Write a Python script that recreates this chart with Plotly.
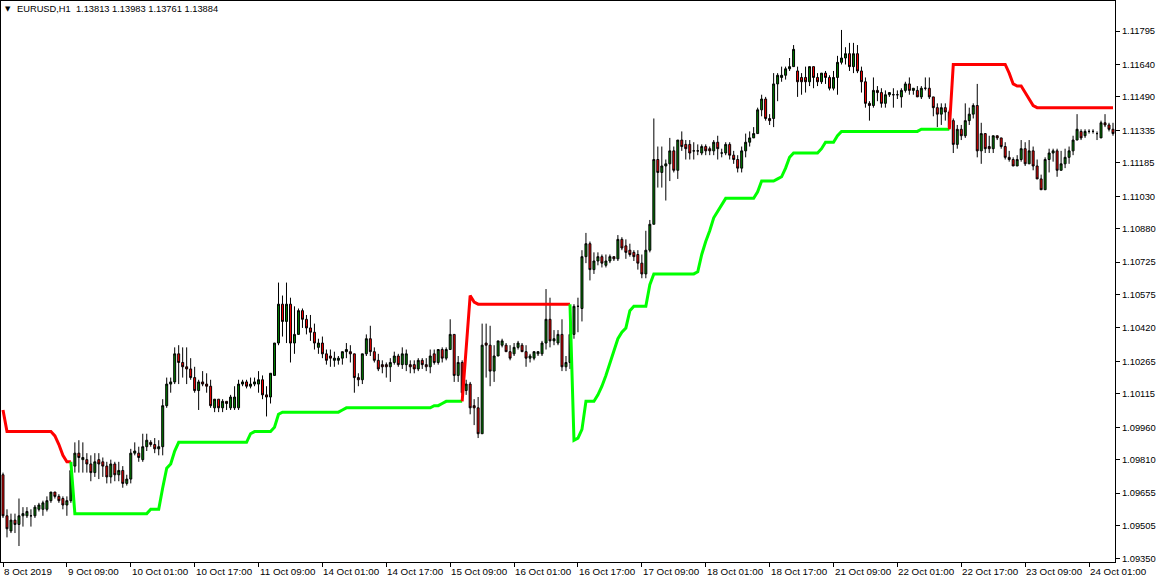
import plotly.graph_objects as go

# ---- candle data (H1 bars, index 0 = 8 Oct 2019 17:00) ----
opens = [
1.0974,1.0955,1.0948,1.0953,1.0951,1.0955,1.0955,1.0955,1.0955,1.0958,
1.0958,1.0958,1.0962,1.0966,1.0964,1.0963,1.0960,1.0962,1.0978,1.0984,
1.0981,1.0981,1.0979,1.0975,1.0981,1.0980,1.0978,1.0973,1.0979,1.0974,
1.0976,1.0970,1.0972,1.0984,1.0984,1.0981,1.0987,1.0989,1.0988,1.0986,
1.0987,1.1006,1.1016,1.1017,1.1030,1.1026,1.1024,1.1023,1.1019,1.1013,
1.1017,1.1016,1.1015,1.1005,1.1009,1.1005,1.1008,1.1005,1.1005,1.1005,
1.1016,1.1017,1.1015,1.1016,1.1016,1.1018,1.1011,1.1010,1.1020,1.1035,
1.1053,1.1045,1.1053,1.1035,1.1039,1.1050,1.1046,1.1042,1.1040,1.1033,
1.1035,1.1030,1.1029,1.1027,1.1027,1.1028,1.1031,1.1031,1.1030,1.1019,
1.1018,1.1030,1.1037,1.1031,1.1027,1.1025,1.1025,1.1024,1.1026,1.1029,
1.1025,1.1025,1.1025,1.1025,1.1023,1.1027,1.1025,1.1024,1.1030,1.1026,
1.1032,1.1028,1.1032,1.1039,1.1020,1.1026,1.1013,1.1016,1.1006,1.1005,
1.0993,1.1035,1.1034,1.1022,1.1029,1.1034,1.1034,1.1031,1.1030,1.1033,
1.1034,1.1031,1.1028,1.1028,1.1030,1.1030,1.1035,1.1046,1.1036,1.1035,
1.1039,1.1024,1.1026,1.1039,1.1052,1.1051,1.1075,1.1081,1.1069,1.1073,
1.1075,1.1071,1.1073,1.1075,1.1074,1.1083,1.1080,1.1078,1.1077,1.1076,
1.1072,1.1067,1.1078,1.1090,1.1120,1.1114,1.1117,1.1118,1.1124,1.1115,
1.1129,1.1127,1.1127,1.1124,1.1124,1.1123,1.1126,1.1125,1.1124,1.1128,
1.1123,1.1123,1.1127,1.1122,1.1120,1.1116,1.1124,1.1128,1.1130,1.1132,
1.1143,1.1148,1.1139,1.1139,1.1155,1.1158,1.1159,1.1162,1.1163,1.1161,
1.1158,1.1158,1.1156,1.1163,1.1158,1.1156,1.1160,1.1158,1.1153,1.1158,
1.1165,1.1167,1.1169,1.1163,1.1169,1.1161,1.1156,1.1146,1.1145,1.1152,
1.1151,1.1146,1.1150,1.1150,1.1150,1.1149,1.1152,1.1155,1.1152,1.1152,
1.1149,1.1153,1.1153,1.1149,1.1144,1.1141,1.1144,1.1142,1.1138,1.1127,
1.1134,1.1131,1.1138,1.1141,1.1145,1.1124,1.1132,1.1126,1.1125,1.1131,
1.1130,1.1126,1.1121,1.1120,1.1117,1.1120,1.1125,1.1118,1.1124,1.1117,
1.1111,1.1106,1.1120,1.1123,1.1124,1.1115,1.1118,1.1121,1.1124,1.1129,
1.1133,1.1131,1.1133,1.1133,1.1132,1.1130,1.1137,1.1136,1.1134]
highs = [
1.0975,1.0958,1.0956,1.0956,1.0963,1.0959,1.0959,1.0958,1.0960,1.0961,
1.0962,1.0964,1.0966,1.0966,1.0965,1.0964,1.0964,1.0980,1.0989,1.0990,
1.0989,1.0984,1.0983,1.0984,1.0984,1.0982,1.0980,1.0981,1.0980,1.0980,
1.0978,1.0974,1.0986,1.0989,1.0987,1.0993,1.0993,1.0990,1.0991,1.0990,
1.1009,1.1019,1.1019,1.1033,1.1034,1.1033,1.1033,1.1028,1.1024,1.1018,
1.1022,1.1021,1.1018,1.1009,1.1009,1.1009,1.1008,1.1011,1.1015,1.1018,
1.1018,1.1018,1.1019,1.1019,1.1022,1.1020,1.1015,1.1021,1.1035,1.1063,
1.1057,1.1063,1.1056,1.1052,1.1051,1.1051,1.1048,1.1048,1.1044,1.1037,
1.1038,1.1032,1.1032,1.1031,1.1029,1.1031,1.1035,1.1034,1.1030,1.1021,
1.1030,1.1039,1.1043,1.1033,1.1030,1.1027,1.1026,1.1028,1.1031,1.1030,
1.1033,1.1032,1.1027,1.1027,1.1028,1.1028,1.1028,1.1032,1.1032,1.1032,
1.1033,1.1033,1.1046,1.1039,1.1029,1.1027,1.1018,1.1017,1.1009,1.1010,
1.1044,1.1044,1.1043,1.1034,1.1036,1.1037,1.1035,1.1034,1.1035,1.1036,
1.1035,1.1034,1.1030,1.1031,1.1031,1.1036,1.1060,1.1056,1.1041,1.1041,
1.1046,1.1029,1.1048,1.1053,1.1056,1.1078,1.1086,1.1082,1.1077,1.1077,
1.1076,1.1076,1.1076,1.1075,1.1085,1.1084,1.1083,1.1081,1.1078,1.1078,
1.1076,1.1087,1.1092,1.1139,1.1126,1.1126,1.1120,1.1130,1.1126,1.1129,
1.1133,1.1129,1.1129,1.1128,1.1127,1.1127,1.1127,1.1126,1.1129,1.1131,
1.1125,1.1128,1.1128,1.1124,1.1122,1.1126,1.1132,1.1133,1.1135,1.1144,
1.1150,1.1149,1.1141,1.1160,1.1160,1.1163,1.1163,1.1167,1.1173,1.1163,
1.1160,1.1163,1.1163,1.1163,1.1160,1.1160,1.1161,1.1159,1.1161,1.1168,
1.1180,1.1172,1.1174,1.1174,1.1173,1.1163,1.1158,1.1147,1.1158,1.1154,
1.1153,1.1152,1.1151,1.1153,1.1152,1.1153,1.1156,1.1158,1.1153,1.1154,
1.1154,1.1158,1.1158,1.1149,1.1146,1.1146,1.1146,1.1143,1.1139,1.1136,
1.1136,1.1146,1.1144,1.1146,1.1155,1.1137,1.1132,1.1131,1.1131,1.1131,
1.1130,1.1128,1.1124,1.1121,1.1122,1.1129,1.1128,1.1129,1.1126,1.1120,
1.1113,1.1121,1.1125,1.1125,1.1125,1.1124,1.1125,1.1126,1.1131,1.1141,
1.1134,1.1134,1.1134,1.1134,1.1133,1.1138,1.1141,1.1137,1.1137]
lows = [
1.0954,1.0945,1.0947,1.0947,1.0941,1.0950,1.0954,1.0950,1.0954,1.0957,
1.0955,1.0957,1.0961,1.0963,1.0961,1.0958,1.0955,1.0961,1.0975,1.0975,
1.0975,1.0975,1.0971,1.0973,1.0972,1.0973,1.0970,1.0970,1.0971,1.0971,
1.0968,1.0969,1.0970,1.0983,1.0980,1.0980,1.0985,1.0987,1.0984,1.0983,
1.0983,1.1005,1.1012,1.1016,1.1016,1.1019,1.1016,1.1018,1.1012,1.1004,
1.1015,1.1012,1.1005,1.1003,1.1003,1.1003,1.1004,1.1004,1.1004,1.1004,
1.1015,1.1014,1.1014,1.1015,1.1012,1.1009,1.1001,1.1007,1.1020,1.1034,
1.1038,1.1035,1.1026,1.1030,1.1039,1.1042,1.1039,1.1036,1.1032,1.1030,
1.1028,1.1025,1.1024,1.1024,1.1025,1.1025,1.1028,1.1026,1.1012,1.1015,
1.1016,1.1029,1.1029,1.1026,1.1022,1.1021,1.1019,1.1017,1.1025,1.1024,
1.1023,1.1022,1.1021,1.1021,1.1022,1.1023,1.1022,1.1021,1.1025,1.1025,
1.1026,1.1027,1.1032,1.1017,1.1017,1.1011,1.1011,1.1002,1.0997,1.0991,
1.0993,1.1019,1.1015,1.1017,1.1029,1.1033,1.1031,1.1027,1.1029,1.1032,
1.1031,1.1024,1.1026,1.1027,1.1029,1.1029,1.1032,1.1033,1.1034,1.1034,
1.1022,1.1022,1.1023,1.1037,1.1040,1.1045,1.1072,1.1064,1.1067,1.1071,
1.1070,1.1070,1.1072,1.1073,1.1073,1.1078,1.1074,1.1075,1.1073,1.1069,
1.1065,1.1065,1.1077,1.1090,1.1107,1.1107,1.1101,1.1110,1.1114,1.1111,
1.1124,1.1120,1.1120,1.1120,1.1122,1.1122,1.1122,1.1122,1.1122,1.1120,
1.1121,1.1122,1.1120,1.1118,1.1114,1.1114,1.1121,1.1126,1.1130,1.1132,
1.1140,1.1138,1.1136,1.1135,1.1147,1.1156,1.1157,1.1161,1.1163,1.1149,
1.1150,1.1151,1.1154,1.1153,1.1154,1.1155,1.1155,1.1152,1.1152,1.1150,
1.1164,1.1164,1.1161,1.1160,1.1160,1.1151,1.1144,1.1138,1.1144,1.1147,
1.1144,1.1144,1.1149,1.1144,1.1148,1.1144,1.1151,1.1150,1.1150,1.1149,
1.1148,1.1152,1.1148,1.1140,1.1135,1.1136,1.1138,1.1134,1.1123,1.1125,
1.1129,1.1130,1.1136,1.1139,1.1121,1.1118,1.1123,1.1123,1.1123,1.1129,
1.1125,1.1120,1.1119,1.1117,1.1117,1.1119,1.1117,1.1118,1.1115,1.1111,
1.1106,1.1106,1.1114,1.1119,1.1112,1.1115,1.1116,1.1118,1.1122,1.1129,
1.1129,1.1130,1.1132,1.1132,1.1129,1.1130,1.1135,1.1133,1.1131]
closes = [
1.0955,1.0949,1.0953,1.0951,1.0955,1.0956,1.0957,1.0955,1.0959,1.0960,
1.0961,1.0962,1.0966,1.0964,1.0962,1.0960,1.0962,1.0976,1.0984,1.0982,
1.0982,1.0979,1.0975,1.0980,1.0979,1.0978,1.0973,1.0979,1.0974,1.0976,
1.0970,1.0972,1.0984,1.0985,1.0982,1.0987,1.0990,1.0988,1.0986,1.0987,
1.1006,1.1016,1.1017,1.1030,1.1026,1.1024,1.1023,1.1019,1.1013,1.1017,
1.1016,1.1015,1.1006,1.1009,1.1005,1.1008,1.1007,1.1010,1.1010,1.1016,
1.1017,1.1015,1.1016,1.1017,1.1018,1.1011,1.1010,1.1021,1.1035,1.1053,
1.1045,1.1053,1.1035,1.1039,1.1050,1.1046,1.1042,1.1040,1.1035,1.1035,
1.1030,1.1027,1.1028,1.1028,1.1028,1.1031,1.1032,1.1030,1.1019,1.1018,
1.1030,1.1037,1.1031,1.1027,1.1023,1.1024,1.1024,1.1026,1.1029,1.1025,
1.1030,1.1030,1.1024,1.1023,1.1027,1.1025,1.1024,1.1029,1.1026,1.1032,
1.1028,1.1032,1.1039,1.1020,1.1026,1.1012,1.1016,1.1005,1.1005,1.0993,
1.1034,1.1034,1.1022,1.1029,1.1036,1.1036,1.1031,1.1028,1.1033,1.1035,
1.1031,1.1028,1.1029,1.1031,1.1031,1.1035,1.1046,1.1036,1.1037,1.1039,
1.1024,1.1026,1.1039,1.1052,1.1052,1.1075,1.1081,1.1069,1.1073,1.1075,
1.1072,1.1073,1.1075,1.1074,1.1083,1.1079,1.1077,1.1076,1.1075,1.1072,
1.1067,1.1078,1.1090,1.1120,1.1114,1.1117,1.1118,1.1124,1.1115,1.1129,
1.1126,1.1125,1.1123,1.1124,1.1124,1.1126,1.1124,1.1124,1.1128,1.1125,
1.1123,1.1127,1.1122,1.1120,1.1116,1.1124,1.1128,1.1130,1.1132,1.1143,
1.1148,1.1139,1.1138,1.1155,1.1159,1.1159,1.1162,1.1163,1.1171,1.1156,
1.1156,1.1156,1.1163,1.1158,1.1156,1.1160,1.1158,1.1153,1.1158,1.1165,
1.1167,1.1169,1.1163,1.1169,1.1161,1.1156,1.1146,1.1145,1.1152,1.1151,
1.1146,1.1150,1.1151,1.1150,1.1150,1.1152,1.1155,1.1152,1.1153,1.1149,
1.1153,1.1153,1.1149,1.1144,1.1141,1.1144,1.1142,1.1135,1.1127,1.1134,
1.1131,1.1138,1.1141,1.1145,1.1124,1.1132,1.1125,1.1125,1.1131,1.1130,
1.1126,1.1121,1.1120,1.1117,1.1120,1.1125,1.1118,1.1124,1.1117,1.1111,
1.1106,1.1120,1.1123,1.1124,1.1115,1.1118,1.1121,1.1124,1.1129,1.1134,
1.1130,1.1133,1.1133,1.1133,1.1132,1.1137,1.1136,1.1134,1.1132]

# ---- trailing stop segments (start bar index + values) ----
red1_start = 0
red1 = [1.1004,1.0994,1.0994,1.0994,1.0994,1.0994,1.0994,1.0994,1.0994,1.0994,
        1.0994,1.0994,1.0994,1.0992,1.0988,1.0983,1.0980,1.0980]
green1_start = 17
green1 = [1.0980,
          1.0956,1.0956,1.0956,1.0956,1.0956,1.0956,1.0956,1.0956,1.0956,1.0956,
          1.0956,1.0956,1.0956,1.0956,1.0956,1.0956,1.0956,1.0956,1.0956,
          1.0958,1.0958,1.0958,1.0968,1.0977,1.0979,1.0985,1.0989,
          1.0989,1.0989,1.0989,1.0989,1.0989,1.0989,1.0989,1.0989,1.0989,1.0989,
          1.0989,1.0989,1.0989,1.0989,1.0989,1.0989,1.0989,
          1.0993,1.0994,1.0994,1.0994,1.0994,1.0994,1.0996,1.1002,
          1.1003,1.1003,1.1003,1.1003,1.1003,1.1003,1.1003,1.1003,1.1003,1.1003,
          1.1003,1.1003,1.1003,1.1003,1.1003,1.1004,
          1.1005,1.1005,1.1005,1.1005,1.1005,1.1005,1.1005,1.1005,1.1005,1.1005,
          1.1005,1.1005,1.1005,1.1005,1.1005,1.1005,1.1005,1.1005,1.1005,1.1005,
          1.1005,1.1005,1.1006,1.1006,1.1007,1.1008,1.1008,1.1008,1.1008,1.1008]
red2_start = 115
red2 = [1.1008,1.1034,1.1057,1.1054,
        1.1053,1.1053,1.1053,1.1053,1.1053,1.1053,1.1053,1.1053,1.1053,1.1053,
        1.1053,1.1053,1.1053,1.1053,1.1053,1.1053,1.1053,1.1053,1.1053,1.1053,
        1.1053,1.1053,1.1053,1.1053]
green2_start = 142
green2 = [1.1053,1.0990,1.0991,1.0995,1.1008,1.1008,1.1008,1.1011,1.1015,1.1020,
          1.1026,1.1031,1.1037,1.1040,1.1042,1.1050,1.1052,1.1052,1.1052,1.1052,
          1.1062,1.1067,1.1067,1.1067,1.1067,1.1067,1.1067,1.1067,1.1067,1.1067,
          1.1067,1.1067,1.1068,1.1076,1.1082,1.1087,1.1093,1.1096,1.1099,1.1102,
          1.1102,1.1102,1.1102,1.1102,1.1102,1.1102,1.1102,1.1105,1.1110,1.1110,
          1.1110,1.1110,1.1111,1.1112,1.1116,1.1121,1.1123,1.1123,1.1123,1.1123,
          1.1123,1.1123,1.1123,1.1125,1.1128,1.1128,1.1128,1.1131,1.1133,1.1133,
          1.1133,1.1133,1.1133,1.1133,1.1133,1.1133,1.1133,1.1133,1.1133,1.1133,
          1.1133,1.1133,1.1133,1.1133,1.1133,1.1133,1.1133,1.1133,1.1134,1.1134,
          1.1134,1.1134,1.1134,1.1134,1.1134,1.1134]
red3_start = 237
red3 = [1.1134,
        1.1164,1.1164,1.1164,1.1164,1.1164,1.1164,1.1164,1.1164,1.1164,1.1164,
        1.1164,1.1164,1.1164,1.1164,
        1.1160,1.1155,1.1154,1.1154,1.1151,1.1148,1.1145,1.1144,
        1.1144,1.1144,1.1144,1.1144,1.1144,1.1144,1.1144,1.1144,1.1144,1.1144,
        1.1144,1.1144,1.1144,1.1144,1.1144,1.1144,1.1144,1.1144,1.1144]

# ---- axis labels ----
time_tick_bars = [0,16,32,48,64,80,96,112,128,144,160,176,192,208,224,240,256,272]
time_labels = ["8 Oct 2019","9 Oct 09:00","10 Oct 01:00","10 Oct 17:00","11 Oct 09:00",
               "14 Oct 01:00","14 Oct 17:00","15 Oct 09:00","16 Oct 01:00","16 Oct 17:00",
               "17 Oct 09:00","18 Oct 01:00","18 Oct 17:00","21 Oct 09:00","22 Oct 01:00",
               "22 Oct 17:00","23 Oct 09:00","24 Oct 01:00"]
price_ticks = [1.09350,1.09505,1.09655,1.09810,1.09960,1.10115,1.10265,1.10420,1.10575,
               1.10725,1.10880,1.11030,1.11185,1.11335,1.11490,1.11640,1.11795]
header_text = "EURUSD,H1\u00a0\u00a01.13813 1.13983 1.13761 1.13884"

FONT = "Liberation Sans, Arial, sans-serif"
idx = list(range(len(opens)))

fig = go.Figure()
fig.add_trace(go.Candlestick(
    x=idx, open=opens, high=highs, low=lows, close=closes,
    increasing=dict(fillcolor="#008000", line=dict(color="black", width=1)),
    decreasing=dict(fillcolor="#ff0000", line=dict(color="black", width=1)),
    whiskerwidth=0, hoverinfo="skip", showlegend=False))

for start, vals, col in [(red1_start, red1, "#ff0000"), (green1_start, green1, "#00ff00"),
                         (red2_start, red2, "#ff0000"), (green2_start, green2, "#00ff00"),
                         (red3_start, red3, "#ff0000")]:
    fig.add_trace(go.Scatter(x=list(range(start, start + len(vals))), y=vals, mode="lines",
                             line=dict(color=col, width=3), hoverinfo="skip", showlegend=False))

annotations = []
for b, t in zip(time_tick_bars, time_labels):
    annotations.append(dict(x=b, xref="x", y=0, yref="paper", text=t, showarrow=False,
                            xanchor="left", yanchor="top", yshift=-2, xshift=-1,
                            font=dict(family=FONT, size=9.8, color="black")))
annotations.append(dict(x=0, xref="paper", y=1, yref="paper", text="\u25bc", showarrow=False,
                        xanchor="left", yanchor="top", xshift=2, yshift=-2,
                        font=dict(family="DejaVu Sans", size=7, color="black")))
annotations.append(dict(x=0, xref="paper", y=1, yref="paper", text=header_text, showarrow=False,
                        xanchor="left", yanchor="top", xshift=14, yshift=-1,
                        font=dict(family=FONT, size=9.3, color="black")))

fig.update_layout(
    width=1163, height=582,
    margin=dict(l=1, r=48, t=1, b=20),
    paper_bgcolor="white", plot_bgcolor="white",
    showlegend=False,
    annotations=annotations,
    xaxis=dict(range=[-0.5, len(opens) - 0.5], showgrid=False, zeroline=False,
               showline=True, mirror=True, linecolor="black", linewidth=1,
               ticks="outside", ticklen=4, tickcolor="black",
               tickvals=time_tick_bars, showticklabels=False,
               rangeslider=dict(visible=False), fixedrange=True),
    yaxis=dict(range=[1.09336, 1.11934], side="right", showgrid=False, zeroline=False,
               showline=True, mirror=True, linecolor="black", linewidth=1,
               ticks="outside", ticklen=4, tickcolor="black",
               tickvals=price_ticks, ticktext=[f"{v:.5f}" for v in price_ticks],
               tickfont=dict(family=FONT, size=9.4, color="black"), fixedrange=True),
)

fig.write_html("out.html", config={"displayModeBar": False},
               post_script="document.body.style.margin='0';document.body.style.padding='0';")
